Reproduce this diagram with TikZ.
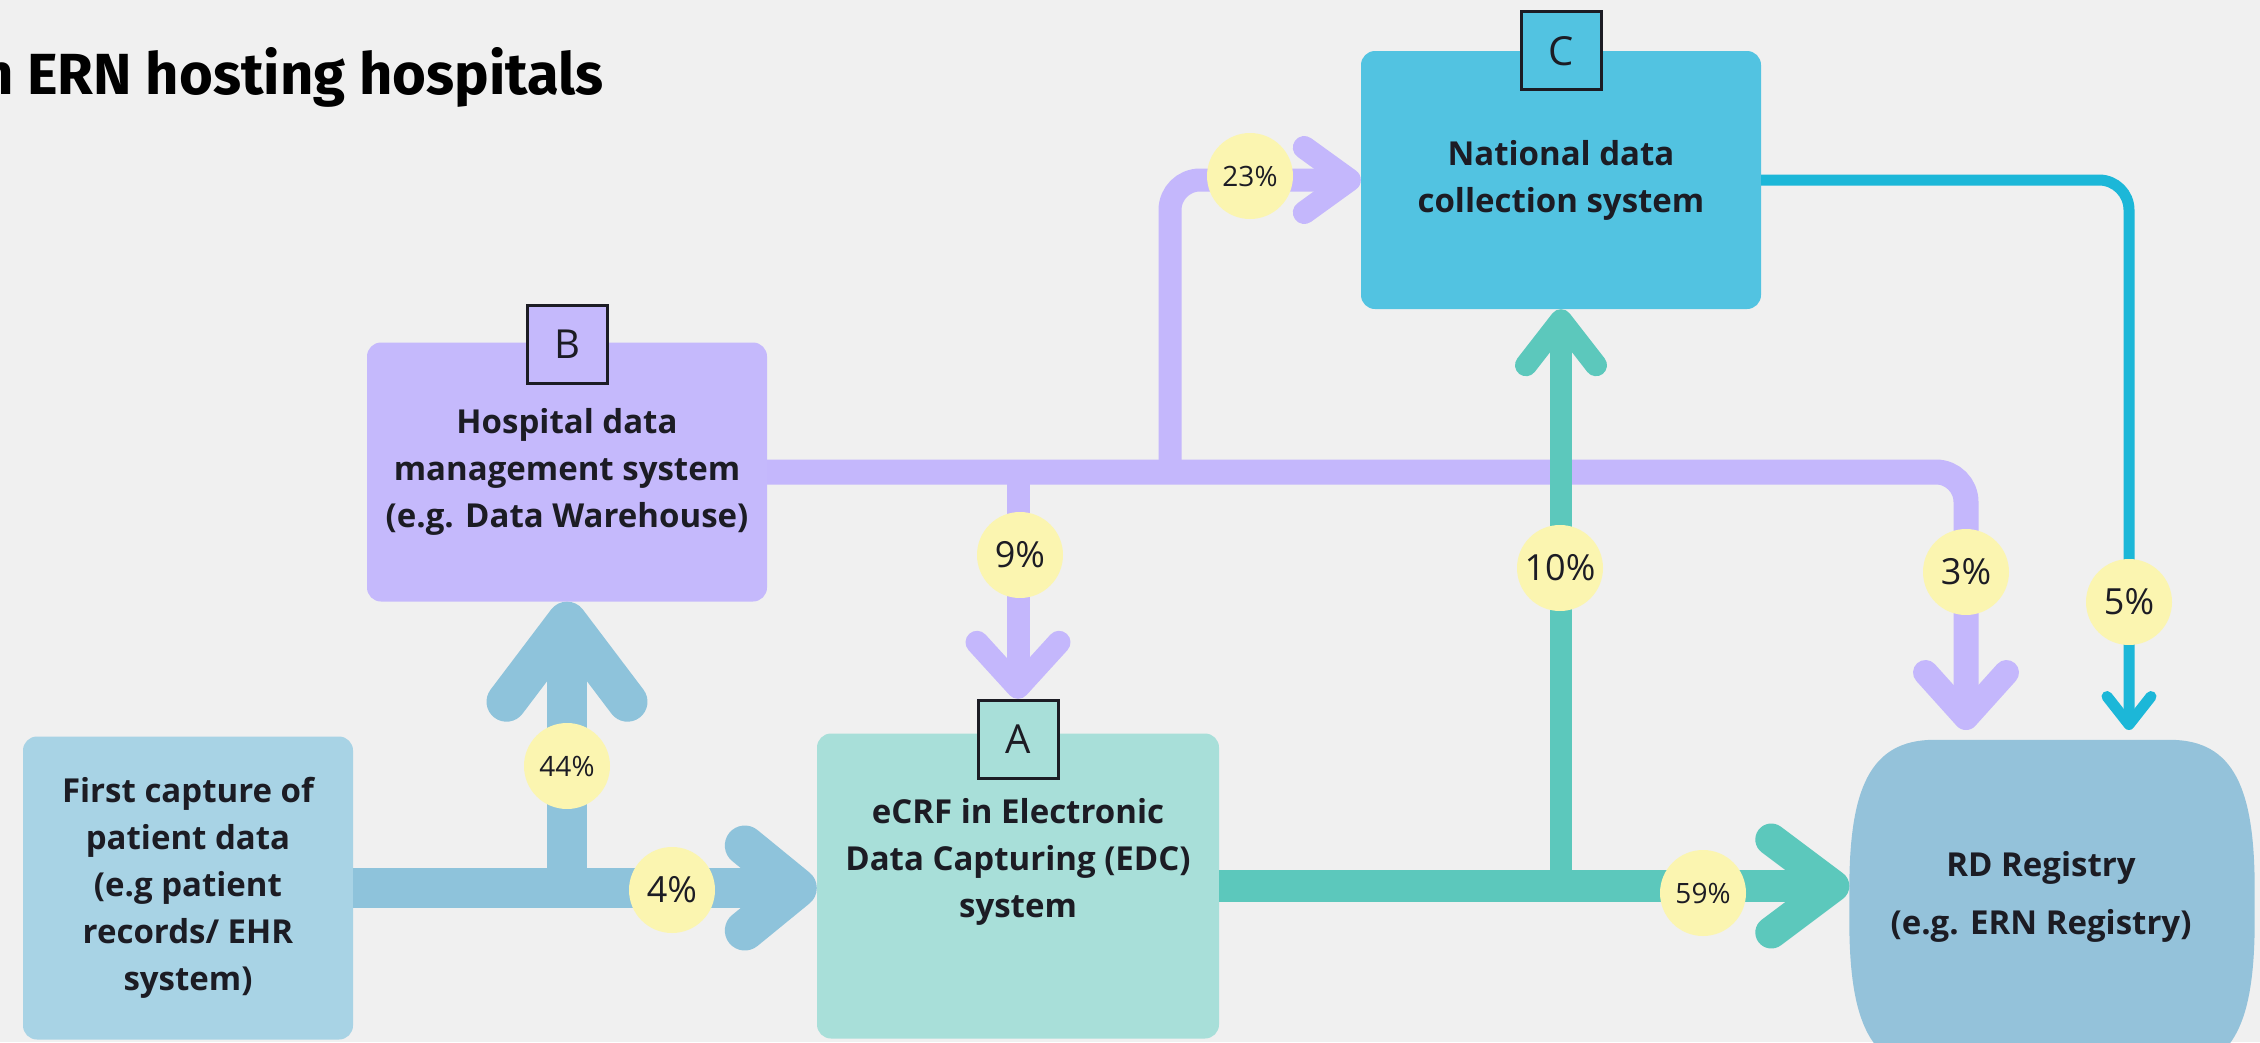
\documentclass[tikz,border=0pt]{standalone}
\usepackage{fontspec}
\setmainfont{Open Sans}
\newfontfamily\titlefont{Fira Sans}
\usetikzlibrary{arrows.meta,positioning}

\definecolor{bgcol}{HTML}{F0F0F0}
\definecolor{capfill}{HTML}{A8D3E5}
\definecolor{hospfill}{HTML}{C5B9FC}
\definecolor{ecrffill}{HTML}{A8DFD9}
\definecolor{natfill}{HTML}{52C3E1}
\definecolor{rdfill}{HTML}{94C2DA}
\definecolor{blueline}{HTML}{8EC3DB}
\definecolor{purpleline}{HTML}{C4B7FC}
\definecolor{tealline}{HTML}{5CC8BC}
\definecolor{cyanline}{HTML}{1CB7D8}
\definecolor{pctfill}{HTML}{FBF5B0}
\definecolor{inkcol}{HTML}{1C1C24}

\tikzset{
  sysbox/.style={rounded corners=14pt, inner sep=0pt, text=inkcol, align=center,
    font=\fontsize{33}{47}\selectfont\bfseries},
  letterbox/.style={draw=inkcol, line width=3pt, minimum width=80pt, minimum height=78pt,
    inner sep=0pt, text=inkcol, font=\fontsize{40}{40}\selectfont},
  pct/.style={circle, fill=pctfill, minimum size=86pt, inner sep=0pt, text=inkcol,
    font=\fontsize{36}{36}\selectfont},
  pctsmall/.style={pct, font=\fontsize{28}{28}\selectfont},
  chevron/.style 2 args={-{Straight Barb[round, length=#1, width=#2]}},
  bluepipe/.style={draw=blueline, line width=40pt},
  purplepipe/.style={draw=purpleline, line width=#1},
  tealpipe/.style={draw=tealline, line width=#1},
  cyanpipe/.style={draw=cyanline, line width=11pt}
}

\begin{document}
\begin{tikzpicture}[x=1pt,y=-1pt]
  \fill[bgcol] (0,0) rectangle (2260,1042);
  \useasboundingbox (0,0) rectangle (2260,1042);

  \node[anchor=base west, inner sep=0pt, font=\titlefont\fontsize{58}{58}\selectfont\bfseries] (title) at (-20,94) {n ERN hosting hospitals};

  % systems
  \node[sysbox, fill=capfill, minimum width=330pt, minimum height=303pt] (cap) at (188,888) {First capture of\\patient data\\(e.g patient\\records/ EHR\\system)};
  \node[sysbox, fill=hospfill, minimum width=400pt, minimum height=259pt] (hosp) at (567,472) {Hospital data\\management system\\(e.g. Data Warehouse)};
  \node[sysbox, fill=ecrffill, minimum width=402pt, minimum height=305pt] (ecrf) at (1018,886) {};
  \node[sysbox] (ecrftext) at ([yshift=24pt]ecrf.center) {eCRF in Electronic\\Data Capturing (EDC)\\system};
  \node[sysbox, fill=natfill, minimum width=400pt, minimum height=258pt] (nat) at (1561,180) {National data\\collection system};

  \node[minimum width=405pt, minimum height=330pt] (rd) at (2052,905) {};
  \fill[rdfill] ([xshift=85pt]rd.north west) -- ([xshift=-85pt]rd.north east)
    .. controls ([xshift=-20pt]rd.north east) and ([yshift=-50pt]rd.north east) .. ([yshift=-150pt]rd.north east)
    -- ([yshift=150pt]rd.south east)
    .. controls ([yshift=50pt]rd.south east) and ([xshift=-20pt]rd.south east) .. ([xshift=-85pt]rd.south east)
    -- ([xshift=85pt]rd.south west)
    .. controls ([xshift=20pt]rd.south west) and ([yshift=50pt]rd.south west) .. ([yshift=150pt]rd.south west)
    -- ([yshift=-150pt]rd.north west)
    .. controls ([yshift=-50pt]rd.north west) and ([xshift=20pt]rd.north west) .. cycle;
  \node[sysbox, font=\fontsize{33}{58}\selectfont\bfseries] (rdtext) at (2041,897) {RD Registry\\(e.g. ERN Registry)};

  \node[letterbox, fill=hospfill] (lb) at ([yshift=-2pt]hosp.north) {B};
  \node[letterbox, fill=ecrffill] (la) at ([yshift=-6pt]ecrf.north) {A};
  \node[letterbox, fill=natfill] (lc) at (nat.north) {C};

  % first capture -> A and B
  \coordinate (jb) at (cap.east -| hosp.south);
  \draw[bluepipe, chevron={52pt}{85pt}] (cap.east) -- (cap.east -| ecrf.west);
  \draw[bluepipe, chevron={80pt}{121pt}] (jb) -- (hosp.south);

  % B -> A, C and registry
  \coordinate (pc) at (1170,180);
  \coordinate (pr) at (1966,730);
  \draw[purplepipe=25pt, rounded corners=30pt, chevron={45pt}{81pt}] (hosp.east) -- (hosp.east -| pr) -- (pr);
  \draw[purplepipe=23pt, chevron={45pt}{82pt}] (hosp.east -| la.north) -- (la.north);
  \draw[purplepipe=23pt, rounded corners=30pt, chevron={45pt}{65pt}] (hosp.east -| pc) -- (pc) -- (pc -| nat.west);

  % A -> registry and C
  \draw[tealpipe=32pt, chevron={62pt}{93pt}] (ecrf.east) -- (ecrf.east -| rd.west);
  \draw[tealpipe=22pt, chevron={45pt}{70pt}] (ecrf.east -| nat.south) -- (nat.south);

  % C -> registry
  \coordinate (cr) at (2129,730);
  \draw[cyanpipe, rounded corners=30pt, chevron={28pt}{44pt}] (nat.east) -- (nat.east -| cr) -- (cr);

  % shares
  \node[pctsmall] (p44) at (567,766) {44\%};
  \node[pct] (p4) at (672,890) {4\%};
  \node[pct] (p9) at (1020,555) {9\%};
  \node[pctsmall] (p23) at (1250,176) {23\%};
  \node[pct] (p10) at (1560,568) {10\%};
  \node[pct] (p3) at (1966,572) {3\%};
  \node[pct] (p5) at (2129,602) {5\%};
  \node[pctsmall] (p59) at (1703,893) {59\%};
\end{tikzpicture}
\end{document}
